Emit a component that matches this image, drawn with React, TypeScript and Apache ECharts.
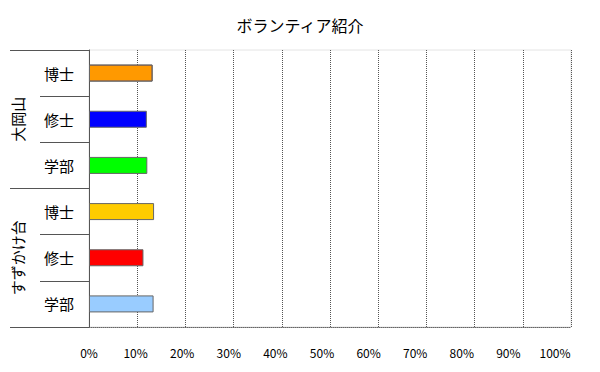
import React, { useEffect, useRef } from "react";
import * as echarts from "echarts";

const title = "ボランティア紹介";
const campuses = ["大岡山", "すずかけ台"];
const categories = [
  "大岡山|博士",
  "大岡山|修士",
  "大岡山|学部",
  "すずかけ台|博士",
  "すずかけ台|修士",
  "すずかけ台|学部",
];
const values = [13.2, 12.0, 12.1, 13.5, 11.3, 13.4];
const barColors = ["#FFCC00", "#0000FF", "#00FF00", "#FFCC00", "#FF0000", "#99CCFF"];
const xMin = 0;
const xMax = 100;
const xStep = 10;

const FONT = "'Noto Sans CJK JP', 'Noto Sans', sans-serif";

export default function App() {
  const ref = useRef<HTMLDivElement>(null);
  useEffect(() => {
    if (!ref.current) return;
    const chart = echarts.init(ref.current, undefined, { renderer: "svg" });
    chart.setOption({
      animation: false,
      backgroundColor: "#ffffff",
      title: {
        text: title,
        left: "center",
        top: 12,
        textStyle: { fontFamily: FONT, fontSize: 16, fontWeight: "normal", color: "#000" },
      },
      grid: [
        {
          left: 89,
          right: 29,
          top: 50,
          bottom: 45,
          show: true,
          borderColor: "#e4e4e4",
          borderWidth: 1,
        },
        { left: 89, right: 45, top: 50, bottom: 45, show: false },
      ],
      xAxis: [
        {
          type: "value",
          gridIndex: 0,
          min: xMin,
          max: xMax,
          interval: xStep,
          axisLine: { show: true, lineStyle: { color: "#666", type: "dotted", width: 1 } },
          axisTick: { show: false },
          splitLine: { show: true, lineStyle: { color: "#555", type: "dotted", width: 1 } },
          axisLabel: { show: false },
        },
        {
          type: "value",
          gridIndex: 1,
          min: xMin,
          max: xMax,
          interval: xStep,
          axisLine: { show: false },
          axisTick: { show: false },
          splitLine: { show: false },
          axisLabel: {
            formatter: "{value}%",
            margin: 19,
            fontFamily: FONT,
            fontSize: 12,
            color: "#000",
          },
        },
      ],
      yAxis: [
        {
          type: "category",
          gridIndex: 0,
          inverse: true,
          data: categories,
          axisLine: { show: true, lineStyle: { color: "#555", width: 1 } },
          axisTick: { show: true, length: 49, lineStyle: { color: "#555" } },
          axisLabel: {
            formatter: (v: string) => v.split("|")[1],
            margin: 15,
            fontFamily: FONT,
            fontSize: 15,
            color: "#000",
          },
        },
        {
          type: "category",
          gridIndex: 0,
          inverse: true,
          position: "left",
          data: campuses,
          axisLine: { show: false },
          axisTick: { show: true, length: 79, lineStyle: { color: "#555" } },
          axisLabel: {
            rotate: 90,
            margin: 72,
            fontFamily: FONT,
            fontSize: 15,
            color: "#000",
            align: "center",
            verticalAlign: "middle",
          },
        },
        {
          type: "category",
          gridIndex: 1,
          data: categories,
          show: false,
        },
      ],
      series: [
        {
          type: "bar",
          xAxisIndex: 0,
          yAxisIndex: 0,
          barWidth: 17,
          data: values.map((v, i) => ({
            value: v,
            itemStyle: {
              color: barColors[i],
              borderColor: "#666",
              borderWidth: 1,
              ...(i === 0
                ? {
                    decal: {
                      symbol: "rect",
                      symbolSize: 0.5,
                      dashArrayX: [2, 0],
                      dashArrayY: [2, 0],
                      color: "#FF0000",
                      backgroundColor: "#FFCC00",
                      rotation: 0,
                    },
                  }
                : {}),
            },
          })),
        },
      ],
    });
    return () => chart.dispose();
  }, []);
  return <div ref={ref} style={{ width: 600, height: 372, margin: -8 }} />;
}
